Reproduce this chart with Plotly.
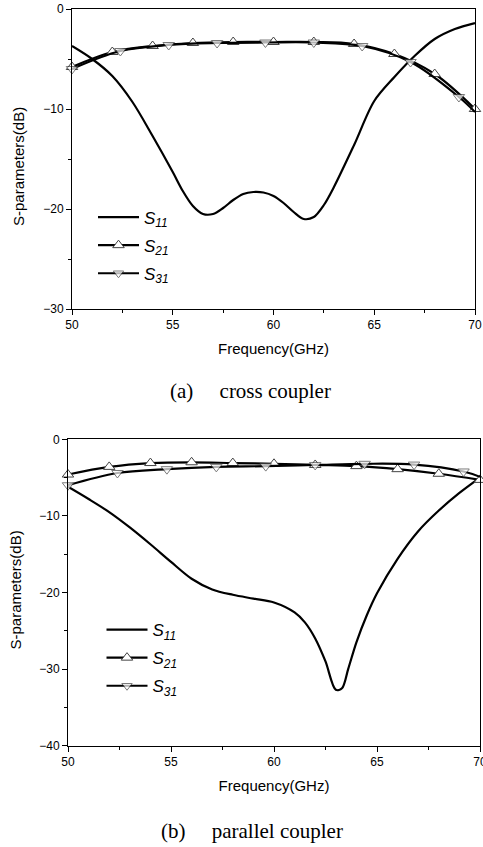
import plotly.graph_objects as go

# ---------------- data: (a) cross coupler ----------------
freq_s11_a = [50, 51, 52, 53, 54, 55, 55.5, 56, 56.5, 57, 57.5, 58, 58.5, 59, 59.5, 60, 60.5, 61, 61.5, 62, 62.5, 63, 64, 65, 66, 67, 68, 69, 70]
s11_a = [-3.7, -5.0, -6.7, -9.3, -12.7, -16.3, -18.2, -19.7, -20.5, -20.5, -19.9, -19.1, -18.5, -18.3, -18.35, -18.7, -19.4, -20.3, -21.0, -20.8, -19.6, -17.8, -13.6, -9.2, -6.8, -4.7, -3.0, -2.0, -1.4]

freq_s21_a = [50, 52, 54, 56, 58, 60, 62, 64, 66, 68, 70]
s21_a = [-5.8, -4.3, -3.7, -3.4, -3.3, -3.3, -3.3, -3.5, -4.5, -6.5, -10.0]

freq_s31_a = [50, 52.4, 54.8, 57.2, 59.6, 62, 64.4, 66.8, 69.2, 70]
s31_a = [-6.0, -4.2, -3.6, -3.4, -3.35, -3.35, -3.7, -5.3, -8.8, -10.3]

# ---------------- data: (b) parallel coupler ----------------
freq_s11_b = [50, 51, 52, 53, 54, 55, 56, 57, 58, 59, 60, 61, 61.5, 62, 62.5, 63, 63.3, 63.6, 64, 64.5, 65, 66, 67, 68, 69, 70]
s11_b = [-6.2, -7.8, -9.5, -11.5, -13.7, -16.0, -18.2, -19.6, -20.3, -20.8, -21.3, -22.6, -23.9, -26.0, -29.0, -32.7, -32.5, -30.0, -26.5, -23.0, -20.1, -15.6, -12.0, -9.3, -7.0, -5.0]

freq_s21_b = [50, 52, 54, 56, 58, 60, 62, 64, 66, 68, 70]
s21_b = [-4.6, -3.6, -3.1, -3.0, -3.1, -3.2, -3.35, -3.5, -3.9, -4.5, -5.3]

freq_s31_b = [50, 52.4, 54.8, 57.2, 59.6, 62, 64.4, 66.8, 69.2, 70]
s31_b = [-6.0, -4.4, -3.9, -3.6, -3.5, -3.35, -3.2, -3.3, -4.2, -4.9]

x_ticks = [50, 55, 60, 65, 70]
y_ticks_a = [-30, -20, -10, 0]
y_ticks_b = [-40, -30, -20, -10, 0]

names = ["<i>S</i><sub><i>11</i></sub>", "<i>S</i><sub><i>21</i></sub>", "<i>S</i><sub><i>31</i></sub>"]
captions = ["(a)\u00a0\u00a0\u00a0\u00a0\u00a0cross coupler", "(b)\u00a0\u00a0\u00a0\u00a0\u00a0parallel coupler"]
x_title = "Frequency(GHz)"
y_title = "S-parameters(dB)"

W, H = 483, 847
SANS = "Liberation Sans, Arial, sans-serif"
SERIF = "Liberation Serif, Times New Roman, serif"

fig = go.Figure()

def add_set(fs11, s11, fs21, s21, fs31, s31, xa, ya, leg, tag):
    n31 = len(fs31)
    sizes31 = [10] * (n31 - 1) + [0]
    fig.add_trace(go.Scatter(x=fs11, y=s11, mode="lines", name=names[0],
                             line=dict(color="black", width=2.2, shape="spline", smoothing=0.9),
                             xaxis=xa, yaxis=ya, legend=leg, legendgroup=tag + "1", cliponaxis=False))
    fig.add_trace(go.Scatter(x=fs21, y=s21, mode="lines+markers", name=names[1],
                             line=dict(color="black", width=2.2, shape="spline", smoothing=1.0),
                             marker=dict(symbol="triangle-up", size=10, color="white",
                                         line=dict(color="#444444", width=1)),
                             xaxis=xa, yaxis=ya, legend=leg, legendgroup=tag + "2", cliponaxis=False))
    fig.add_trace(go.Scatter(x=fs31, y=s31, mode="lines+markers", name=names[2],
                             line=dict(color="black", width=2.2, shape="spline", smoothing=1.0),
                             marker=dict(symbol="triangle-down", size=sizes31, color="white",
                                         line=dict(color="#444444", width=1)),
                             xaxis=xa, yaxis=ya, legend=leg, legendgroup=tag + "3", cliponaxis=False))

add_set(freq_s11_a, s11_a, freq_s21_a, s21_a, freq_s31_a, s31_a, "x", "y", "legend", "a")
add_set(freq_s11_b, s11_b, freq_s21_b, s21_b, freq_s31_b, s31_b, "x2", "y2", "legend2", "b")

def xaxis(domain, anchor):
    return dict(domain=domain, anchor=anchor, range=[50, 70], tickvals=x_ticks,
                automargin=False,
                ticks="outside", ticklen=5, tickwidth=1, tickcolor="black",
                showline=True, linecolor="black", linewidth=1, mirror=True,
                showgrid=False, zeroline=False, ticklabeloverflow="allow",
                minor=dict(dtick=2.5, tick0=50, ticks="outside", ticklen=3, tickwidth=1,
                           tickcolor="black", showgrid=False),
                tickfont=dict(family=SANS, size=12, color="black"),
                title=dict(text=x_title, font=dict(family=SANS, size=15, color="black"), standoff=12))

def yaxis(domain, anchor, rng, tv):
    return dict(domain=domain, anchor=anchor, range=rng, tickvals=tv,
                automargin=False,
                ticks="outside", ticklen=5, tickwidth=1, tickcolor="black",
                showline=True, linecolor="black", linewidth=1, mirror=True,
                showgrid=False, zeroline=False,
                minor=dict(dtick=5, tick0=0, ticks="outside", ticklen=3, tickwidth=1,
                           tickcolor="black", showgrid=False),
                tickfont=dict(family=SANS, size=12, color="black"))

leg_common = dict(font=dict(family=SANS, size=17, color="black"), bgcolor="rgba(0,0,0,0)",
                  borderwidth=0, itemwidth=41, traceorder="grouped", tracegroupgap=3,
                  xanchor="left", yanchor="top")

def ytitle(xpx, ypx):
    return dict(text=y_title, x=xpx / W, y=1 - ypx / H, xref="paper", yref="paper",
                showarrow=False, textangle=-90,
                font=dict(family=SANS, size=15, color="black"),
                xanchor="center", yanchor="middle")

fig.update_layout(
    width=W, height=H, margin=dict(l=0, r=0, t=0, b=0, autoexpand=False),
    paper_bgcolor="white", plot_bgcolor="white",
    xaxis=xaxis([72 / W, 475 / W], "y"),
    yaxis=yaxis([1 - 309 / H, 1 - 9 / H], "x", [-30, 0], y_ticks_a),
    xaxis2=xaxis([68 / W, 480 / W], "y2"),
    yaxis2=yaxis([1 - 745.7 / H, 1 - 439.3 / H], "x2", [-40, 0], y_ticks_b),
    legend=dict(x=93 / W, y=1 - 199.5 / H, **leg_common),
    legend2=dict(x=101.5 / W, y=1 - 612 / H, **leg_common),
    annotations=[
        ytitle(18, 167),
        ytitle(14.5, 590),
        dict(text=captions[0], x=251 / W, y=1 - 391 / H, xref="paper", yref="paper",
             showarrow=False, font=dict(family=SERIF, size=21, color="black"),
             xanchor="center", yanchor="middle"),
        dict(text=captions[1], x=252 / W, y=1 - 831 / H, xref="paper", yref="paper",
             showarrow=False, font=dict(family=SERIF, size=21, color="black"),
             xanchor="center", yanchor="middle"),
    ],
)

fig.write_html("out.html", config={"displayModeBar": False},
               post_script="document.body.style.margin='0';document.body.style.overflow='hidden';")
